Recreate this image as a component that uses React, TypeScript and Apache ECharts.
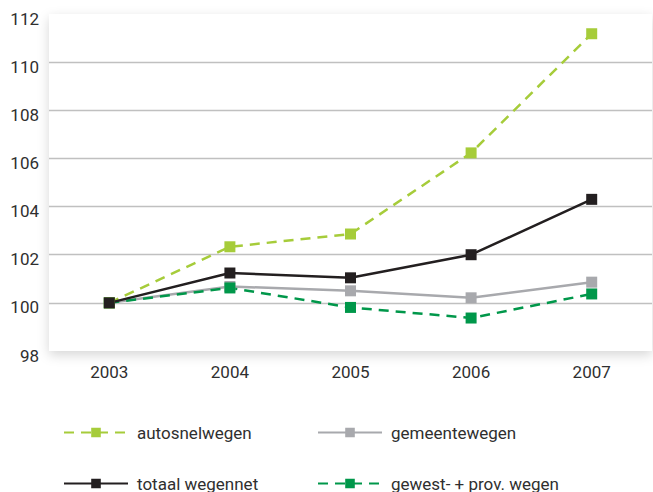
import React, { useEffect, useRef } from "react";
import * as echarts from "echarts";

const years = ["2003", "2004", "2005", "2006", "2007"];
const autosnelwegen = [100, 102.33, 102.86, 106.23, 111.18];
const gemeentewegen = [100, 100.68, 100.5, 100.21, 100.86];
const totaalWegennet = [100, 101.24, 101.04, 102.0, 104.3];
const gewestProvWegen = [100, 100.62, 99.81, 99.37, 100.37];

const LIME = "#a6cc3a";
const GREY = "#a8a9ad";
const BLACK = "#231f20";
const GREEN = "#00974a";
const FONT = "Roboto";
const TEXT = "#2f2f2f";
const FONT_SIZE = 17;

function legendAt(name: string, left: number, top: number) {
  return {
    data: [name],
    left,
    top,
    padding: 0,
    itemWidth: 64,
    itemHeight: 12,
    selectedMode: false,
    textStyle: { fontFamily: FONT, fontSize: FONT_SIZE, color: TEXT, padding: [0, 0, 0, 4] },
  };
}

function lineSeries(name: string, data: number[], color: string, dashed: boolean) {
  return {
    name,
    type: "line",
    data,
    symbol: "rect",
    symbolSize: 11,
    itemStyle: { color },
    lineStyle: { color, width: 2.5, type: dashed ? [10, 7] : "solid" },
  };
}

export default function App() {
  const ref = useRef<HTMLDivElement>(null);

  useEffect(() => {
    if (!ref.current) return;
    const chart = echarts.init(ref.current, null, { renderer: "svg" });
    chart.setOption({
      animation: false,
      backgroundColor: "#ffffff",
      grid: {
        left: 49,
        right: 1,
        top: 14,
        bottom: 141,
        show: true,
        backgroundColor: "#ffffff",
        borderWidth: 0,
        shadowBlur: 12,
        shadowColor: "rgba(0,0,0,0.16)",
        shadowOffsetY: 4,
      },
      legend: [
        legendAt("autosnelwegen", 63, 424),
        legendAt("gemeentewegen", 317, 424),
        legendAt("totaal wegennet", 63, 475),
        legendAt("gewest- + prov. wegen", 317, 475),
      ],
      xAxis: {
        type: "category",
        data: years,
        boundaryGap: true,
        axisLine: { show: false },
        axisTick: { show: false },
        axisLabel: { fontFamily: FONT, fontSize: FONT_SIZE, color: TEXT, margin: 12 },
      },
      yAxis: {
        type: "value",
        min: 98,
        max: 112,
        interval: 2,
        axisLine: { show: false },
        axisTick: { show: false },
        axisLabel: {
          margin: 10,
          formatter: "{v|{value}}",
          rich: {
            v: {
              fontFamily: FONT,
              fontSize: FONT_SIZE,
              color: TEXT,
              padding: [9, 0, 0, 0],
            },
          },
        },
        splitLine: {
          show: true,
          showMinLine: false,
          showMaxLine: false,
          lineStyle: { color: "#c0c0c0", width: 1.3 },
        },
      },
      series: [
        lineSeries("gemeentewegen", gemeentewegen, GREY, false),
        lineSeries("gewest- + prov. wegen", gewestProvWegen, GREEN, true),
        lineSeries("autosnelwegen", autosnelwegen, LIME, true),
        lineSeries("totaal wegennet", totaalWegennet, BLACK, false),
      ],
    });
    return () => chart.dispose();
  }, []);

  return (
    <div
      ref={ref}
      style={{ position: "fixed", left: 0, top: 0, width: 653, height: 492 }}
    />
  );
}
